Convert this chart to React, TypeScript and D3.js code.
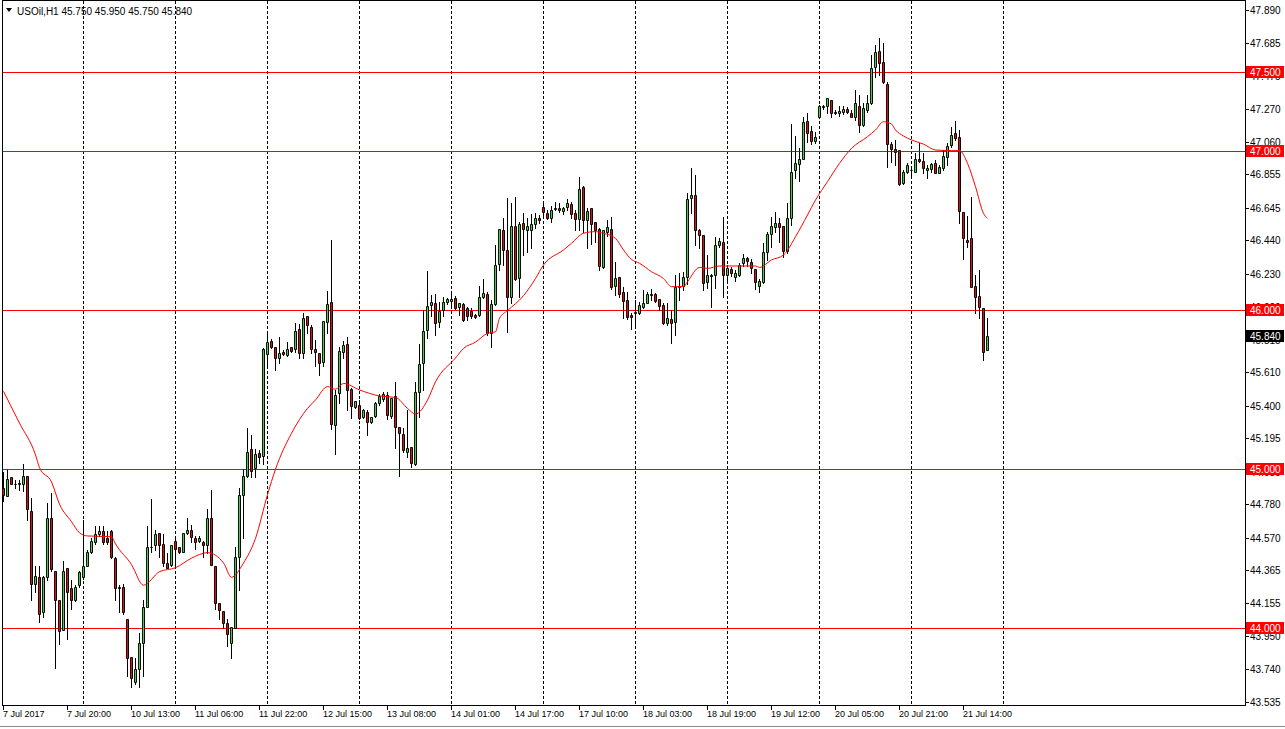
import * as d3 from "d3";

// USOil H1, 7 Jul 2017 - 21 Jul 2017, one entry per hourly bar
const opens = [
  44.88, 44.83, 44.95, 44.91, 44.91, 44.91, 44.96, 44.74, 44.28, 44.32,
  44.1, 44.32, 44.69, 44.36, 44.18, 43.99, 44.38, 44.25, 44.18, 44.27,
  44.32, 44.39, 44.48, 44.54, 44.59, 44.61, 44.57, 44.61, 44.44, 44.25,
  44.26, 44.055, 43.817, 43.66, 43.74, 43.905, 44.13, 44.51, 44.52, 44.6,
  44.53, 44.41, 44.4, 44.55, 44.51, 44.48, 44.6, 44.62, 44.57, 44.55,
  44.54, 44.52, 44.69, 44.39, 44.16, 44.11, 44.03, 43.905, 44.0, 44.45,
  44.84, 44.96, 45.125, 45.006, 45.105, 45.083, 45.725, 45.81, 45.77, 45.7,
  45.74, 45.72, 45.767, 45.755, 45.88, 45.73, 45.965, 45.893, 45.757, 45.73,
  45.677, 45.925, 46.05, 45.28, 45.478, 45.74, 45.785, 45.502, 45.394, 45.405,
  45.327, 45.36, 45.3, 45.337, 45.415, 45.44, 45.467, 45.335, 45.463, 45.268,
  45.22, 45.11, 45.138, 45.033, 45.486, 45.666, 45.876, 46.033, 46.044, 45.928,
  46.002, 46.054, 46.058, 46.079, 46.018, 46.04, 46.012, 45.998, 45.972, 45.97,
  46.082, 46.1, 45.855, 46.038, 46.291, 46.506, 46.38, 46.082, 46.533, 46.206,
  46.548, 46.506, 46.506, 46.541, 46.583, 46.648, 46.61, 46.583, 46.64, 46.646,
  46.625, 46.648, 46.667, 46.61, 46.575, 46.774, 46.568, 46.642, 46.554, 46.51,
  46.275, 46.495, 46.512, 46.155, 46.21, 46.113, 46.065, 45.97, 45.981, 45.985,
  46.023, 46.048, 46.097, 46.1, 46.069, 46.034, 45.918, 45.943, 45.929, 46.145,
  46.153, 46.208, 46.705, 46.726, 46.505, 46.474, 46.18, 46.222, 46.222, 46.411,
  46.432, 46.222, 46.26, 46.208, 46.222, 46.296, 46.327, 46.306, 46.258, 46.153,
  46.18, 46.369, 46.48, 46.527, 46.547, 46.53, 46.375, 46.579, 46.883, 46.921,
  46.952, 47.191, 47.128, 47.068, 47.214, 47.28, 47.286, 47.324, 47.25, 47.24,
  47.25, 47.265, 47.24, 47.219, 47.286, 47.166, 47.26, 47.307, 47.529, 47.632,
  47.56, 47.424, 47.044, 47.015, 47.009, 46.8, 46.872, 46.883, 46.872, 46.952,
  46.942, 46.883, 46.887, 46.929, 46.866, 46.893, 46.967, 47.04, 47.114, 47.089,
  46.621, 46.442, 46.453, 46.155, 46.09, 46.012, 45.75,
];

const highs = [
  44.98, 45.0, 44.95, 44.93, 44.93, 45.03, 44.96, 44.82, 44.39, 44.39,
  44.33, 44.79, 44.85, 44.36, 44.18, 44.42, 44.38, 44.3, 44.27, 44.36,
  44.68, 44.49, 44.57, 44.64, 44.645, 44.64, 44.61, 44.62, 44.45, 44.27,
  44.28, 44.06, 43.82, 43.81, 43.97, 44.18, 44.64, 44.81, 44.62, 44.6,
  44.59, 44.47, 44.52, 44.57, 44.51, 44.6, 44.69, 44.65, 44.58, 44.58,
  44.55, 44.75, 44.87, 44.39, 44.16, 44.11, 44.06, 44.01, 44.51, 44.88,
  45.0, 45.26, 45.215, 45.13, 45.12, 45.76, 45.86, 45.82, 45.77, 45.83,
  45.75, 45.8, 45.77, 45.92, 45.915, 45.98, 45.965, 45.91, 45.815, 45.73,
  45.93, 46.12, 46.44, 45.5, 45.77, 45.81, 45.835, 45.51, 45.43, 45.435,
  45.377, 45.37, 45.33, 45.42, 45.473, 45.488, 45.484, 45.446, 45.547, 45.268,
  45.257, 45.372, 45.14, 45.55, 45.79, 46.0, 46.25, 46.096, 46.1, 46.054,
  46.082, 46.08, 46.1, 46.09, 46.048, 46.044, 46.02, 46.012, 45.975, 46.15,
  46.2, 46.117, 46.065, 46.411, 46.51, 46.579, 46.705, 46.673, 46.711, 46.558,
  46.615, 46.583, 46.604, 46.61, 46.6, 46.684, 46.631, 46.657, 46.684, 46.673,
  46.652, 46.698, 46.684, 46.631, 46.841, 46.782, 46.646, 46.642, 46.558, 46.516,
  46.506, 46.568, 46.59, 46.306, 46.21, 46.149, 46.117, 45.98, 46.065, 46.055,
  46.128, 46.117, 46.132, 46.11, 46.069, 46.044, 46.044, 46.0, 46.222, 46.232,
  46.243, 46.736, 46.894, 46.852, 46.51, 46.474, 46.348, 46.23, 46.463, 46.453,
  46.589, 46.285, 46.27, 46.254, 46.296, 46.355, 46.338, 46.321, 46.258, 46.2,
  46.421, 46.495, 46.589, 46.621, 46.579, 46.53, 46.674, 47.172, 47.097, 47.019,
  47.214, 47.244, 47.16, 47.124, 47.292, 47.292, 47.338, 47.324, 47.26, 47.286,
  47.286, 47.28, 47.26, 47.386, 47.355, 47.302, 47.355, 47.607, 47.67, 47.712,
  47.68, 47.439, 47.061, 47.072, 47.009, 46.883, 46.929, 46.908, 46.988, 47.05,
  46.988, 46.914, 46.93, 46.946, 46.914, 47.009, 47.051, 47.156, 47.194, 47.135,
  46.621, 46.593, 46.715, 46.222, 46.254, 46.012, 45.95,
];

const lows = [
  44.8, 44.83, 44.91, 44.88, 44.87, 44.86, 44.68, 44.18, 44.23, 44.04,
  44.07, 44.3, 44.36, 43.75, 43.9, 43.99, 43.93, 44.12, 44.17, 44.26,
  44.31, 44.39, 44.47, 44.53, 44.58, 44.53, 44.53, 44.44, 44.18, 44.1,
  44.09, 43.7, 43.63, 43.65, 43.63, 43.7, 44.13, 44.48, 44.49, 44.45,
  44.39, 44.38, 44.39, 44.39, 44.47, 44.48, 44.59, 44.54, 44.5, 44.54,
  44.45, 44.47, 44.4, 44.12, 44.06, 44.0, 43.89, 43.81, 44.0, 44.24,
  44.565, 44.95, 44.95, 44.95, 45.04, 45.03, 45.645, 45.76, 45.625, 45.67,
  45.72, 45.71, 45.74, 45.74, 45.7, 45.7, 45.855, 45.73, 45.65, 45.59,
  45.65, 45.855, 45.25, 45.095, 45.415, 45.7, 45.373, 45.32, 45.385, 45.314,
  45.32, 45.215, 45.29, 45.33, 45.404, 45.43, 45.314, 45.32, 45.131, 44.957,
  45.11, 45.08, 45.015, 45.027, 45.33, 45.5, 45.823, 45.964, 45.844, 45.897,
  45.964, 46.037, 46.027, 46.006, 45.97, 45.935, 45.94, 45.953, 45.95, 45.964,
  46.075, 45.844, 45.77, 46.034, 46.254, 46.285, 45.866, 46.044, 46.19, 46.086,
  46.348, 46.365, 46.39, 46.516, 46.55, 46.6, 46.575, 46.554, 46.63, 46.62,
  46.604, 46.631, 46.579, 46.506, 46.506, 46.495, 46.39, 46.415, 46.432, 46.254,
  46.264, 46.468, 46.134, 46.096, 46.086, 45.95, 45.945, 45.88, 45.908, 45.977,
  46.013, 46.044, 46.065, 46.055, 46.002, 45.912, 45.908, 45.792, 45.845, 46.065,
  46.128, 46.166, 46.61, 46.41, 46.39, 46.128, 46.138, 46.02, 46.138, 46.397,
  46.086, 46.174, 46.216, 46.187, 46.216, 46.279, 46.279, 46.233, 46.132, 46.117,
  46.17, 46.316, 46.4, 46.495, 46.432, 46.338, 46.363, 46.537, 46.83, 46.816,
  46.95, 47.061, 47.046, 47.051, 47.208, 47.27, 47.24, 47.214, 47.235, 47.223,
  47.235, 47.24, 47.214, 47.198, 47.124, 47.16, 47.25, 47.298, 47.47, 47.481,
  47.428, 46.9, 46.935, 46.914, 46.789, 46.795, 46.862, 46.84, 46.872, 46.935,
  46.862, 46.83, 46.872, 46.862, 46.862, 46.883, 46.914, 47.03, 47.072, 46.551,
  46.321, 46.4, 46.149, 45.981, 45.95, 45.687, 45.75,
];

const closes = [
  44.84, 44.94, 44.91, 44.91, 44.915, 44.96, 44.75, 44.28, 44.33, 44.09,
  44.32, 44.69, 44.37, 44.18, 43.98, 44.36, 44.23, 44.18, 44.26, 44.35,
  44.39, 44.48, 44.55, 44.59, 44.61, 44.54, 44.54, 44.45, 44.25, 44.26,
  44.1, 43.81, 43.685, 43.74, 43.905, 44.13, 44.51, 44.51, 44.59, 44.52,
  44.41, 44.38, 44.52, 44.5, 44.48, 44.6, 44.62, 44.575, 44.545, 44.57,
  44.52, 44.695, 44.4, 44.16, 44.115, 44.03, 43.96, 44.005, 44.45, 44.84,
  44.96, 45.11, 44.99, 45.096, 45.08, 45.755, 45.8, 45.77, 45.7, 45.73,
  45.725, 45.757, 45.746, 45.87, 45.73, 45.95, 45.908, 45.755, 45.74, 45.67,
  45.93, 46.04, 45.285, 45.467, 45.744, 45.78, 45.5, 45.398, 45.43, 45.325,
  45.37, 45.3, 45.327, 45.415, 45.46, 45.473, 45.341, 45.446, 45.263, 45.226,
  45.12, 45.131, 45.04, 45.484, 45.662, 45.872, 46.03, 46.05, 45.922, 45.998,
  46.054, 46.071, 46.071, 46.012, 46.044, 45.94, 45.964, 45.964, 45.96, 46.082,
  46.11, 45.859, 46.038, 46.285, 46.509, 46.38, 46.086, 46.53, 46.2, 46.541,
  46.512, 46.533, 46.541, 46.579, 46.568, 46.62, 46.579, 46.631, 46.646, 46.631,
  46.642, 46.673, 46.604, 46.575, 46.762, 46.568, 46.627, 46.541, 46.506, 46.279,
  46.503, 46.527, 46.149, 46.205, 46.1, 46.06, 45.96, 45.96, 45.992, 46.034,
  46.048, 46.1, 46.105, 46.06, 46.029, 45.918, 45.95, 45.922, 46.149, 46.149,
  46.208, 46.698, 46.726, 46.505, 46.474, 46.174, 46.222, 46.216, 46.411, 46.438,
  46.222, 46.264, 46.233, 46.237, 46.285, 46.327, 46.312, 46.264, 46.18, 46.187,
  46.365, 46.48, 46.53, 46.552, 46.526, 46.375, 46.579, 46.872, 46.929, 46.952,
  47.183, 47.114, 47.065, 47.089, 47.286, 47.283, 47.334, 47.24, 47.244, 47.256,
  47.27, 47.25, 47.214, 47.302, 47.166, 47.271, 47.302, 47.523, 47.623, 47.554,
  47.435, 47.044, 47.015, 46.994, 46.795, 46.868, 46.914, 46.884, 46.95, 46.942,
  46.893, 46.897, 46.92, 46.866, 46.904, 46.971, 47.034, 47.103, 47.082, 46.627,
  46.453, 46.432, 46.149, 46.086, 46.019, 45.74, 45.84,
];

// moving average: bar index and value
const maIndex = [
  0, 4, 8, 9, 12, 14, 17, 19, 21, 27, 28, 32, 35, 39, 43, 47, 51, 55, 57, 60,
  63, 66, 68, 72, 76, 78, 81, 83, 85, 89, 94, 98, 101, 103, 106, 108, 113, 115,
  118, 121, 123, 124, 126, 130, 133, 135, 140, 142, 145, 148, 150, 153, 155,
  157, 159, 162, 165, 167, 170, 171, 174, 176, 179, 188, 189, 192, 195, 198,
  201, 203, 206, 209, 212, 216, 218, 220, 222, 223, 225, 227, 230, 233, 237,
  239, 241, 243, 245, 246,
];
const maValue = [
  45.49, 45.29, 45.09, 45.01, 44.92, 44.78, 44.67, 44.6, 44.58, 44.575, 44.53,
  44.4, 44.27, 44.355, 44.38, 44.44, 44.475, 44.41, 44.32, 44.41, 44.565, 44.84,
  45.0, 45.226, 45.383, 45.436, 45.52, 45.503, 45.54, 45.499, 45.461, 45.452,
  45.383, 45.347, 45.435, 45.55, 45.7, 45.76, 45.8, 45.855, 45.865, 45.95,
  45.998, 46.092, 46.2, 46.285, 46.38, 46.422, 46.485, 46.495, 46.485, 46.453,
  46.38, 46.32, 46.296, 46.243, 46.2, 46.149, 46.149, 46.18, 46.27, 46.264,
  46.279, 46.279, 46.27, 46.317, 46.348, 46.463, 46.6, 46.694, 46.81, 46.925,
  47.019, 47.093, 47.135, 47.187, 47.172, 47.135, 47.097, 47.072, 47.046,
  47.009, 47.005, 47.005, 46.925, 46.778, 46.61, 46.579,
];

const levels = [47.5, 47.0, 46.0, 45.0, 44.0];
const lastPrice = 45.84;

const priceTicks = [
  47.89, 47.685, 47.475, 47.27, 47.06, 46.855, 46.645, 46.44, 46.23, 46.02,
  45.815, 45.61, 45.4, 45.195, 44.985, 44.78, 44.57, 44.365, 44.155, 43.95,
  43.74, 43.535,
];

const timeLabels = [
  "7 Jul 2017", "7 Jul 20:00", "10 Jul 13:00", "11 Jul 06:00", "11 Jul 22:00",
  "12 Jul 15:00", "13 Jul 08:00", "14 Jul 01:00", "14 Jul 17:00", "17 Jul 10:00",
  "18 Jul 03:00", "18 Jul 19:00", "19 Jul 12:00", "20 Jul 05:00", "20 Jul 21:00",
  "21 Jul 14:00",
];
const barsPerLabel = 16;
const gridBars = [20, 43, 66, 89, 112, 135, 158, 181, 204, 227, 250];

const header = "USOil,H1  45.750 45.950 45.750 45.840";

const W = 1285;
const H = 729;
const plotRight = 1245;
const plotBottom = 705;
const font = "'Liberation Sans', Arial, sans-serif";

export default function App() {
  const x = d3.scaleLinear().domain([0, 246]).range([3, 987]);
  const y = d3.scaleLinear().domain([43.535, 47.89]).range([702, 10]);
  const py = (v: number) => Math.round(y(v)) + 0.5;

  const ma = d3
    .line<number>()
    .x((i) => x(maIndex[i]) + 0.5)
    .y((i) => y(maValue[i]))
    .curve(d3.curveMonotoneX);

  return (
    <svg
      width={W}
      height={H}
      style={{ position: "absolute", left: 0, top: 0, background: "#fff" }}
      fontFamily={font}
    >
      {/* vertical grid */}
      {gridBars.map((b) => (
        <line
          key={b}
          x1={Math.round(x(b)) + 0.5}
          x2={Math.round(x(b)) + 0.5}
          y1={1}
          y2={plotBottom}
          stroke="#000"
          strokeDasharray="3,2"
        />
      ))}

      {/* price levels */}
      {levels.map((l) => (
        <line key={l} x1={2} x2={plotRight} y1={py(l)} y2={py(l)} stroke="#ff0000" />
      ))}

      {/* candles */}
      {opens.map((o, i) => {
        const c = closes[i];
        const cx = Math.round(x(i));
        const top = Math.round(y(Math.max(o, c)));
        const bot = Math.round(y(Math.min(o, c)));
        const h = Math.max(bot - top, 0);
        return (
          <g key={i}>
            <line
              x1={cx + 0.5}
              x2={cx + 0.5}
              y1={Math.round(y(highs[i]))}
              y2={Math.round(y(lows[i])) + 1}
              stroke="#000"
            />
            <path
              d={`M${cx - 0.5},${top + 0.5}h2v${h}h-2z`}
              fill={c >= o ? "#00ff00" : "#ff0000"}
              stroke="#000"
            />
          </g>
        );
      })}

      {/* moving average */}
      <path d={ma(d3.range(maIndex.length)) || ""} fill="none" stroke="#ff0000" />

      {/* frame */}
      <line x1={2.5} x2={2.5} y1={0} y2={plotBottom + 1} stroke="#000" />
      <line x1={2} x2={plotRight + 1} y1={0.5} y2={0.5} stroke="#000" />
      <line x1={plotRight + 0.5} x2={plotRight + 0.5} y1={0} y2={plotBottom + 1} stroke="#000" />
      <line x1={2} x2={plotRight + 1} y1={plotBottom + 0.5} y2={plotBottom + 0.5} stroke="#000" />

      {/* price axis */}
      {priceTicks.map((t) => (
        <g key={t}>
          <line x1={plotRight} x2={plotRight + 4} y1={py(t)} y2={py(t)} stroke="#000" />
          <text x={1250} y={py(t)} dy="0.35em" fontSize={10} fill="#000">
            {t.toFixed(3)}
          </text>
        </g>
      ))}
      {levels.map((l) => (
        <g key={"lb" + l}>
          <rect x={1246} y={py(l) - 6.5} width={38} height={12} fill="#ff0000" />
          <text x={1250} y={py(l)} dy="0.35em" fontSize={10} fill="#fff">
            {l.toFixed(3)}
          </text>
        </g>
      ))}
      <rect x={1246} y={py(lastPrice) - 6.5} width={38} height={12} fill="#000" />
      <text x={1250} y={py(lastPrice)} dy="0.35em" fontSize={10} fill="#fff">
        {lastPrice.toFixed(3)}
      </text>

      {/* time axis */}
      {timeLabels.map((t, k) => {
        const tx = Math.round(x(k * barsPerLabel)) + 0.5;
        return (
          <g key={t}>
            <line x1={tx} x2={tx} y1={plotBottom} y2={plotBottom + 5} stroke="#000" />
            <text x={tx - 0.5} y={717} fontSize={9} fill="#000">
              {t}
            </text>
          </g>
        );
      })}

      {/* header */}
      <path d="M6,8h6l-3,4z" fill="#000" />
      <text x={17} y={15} fontSize={10} fill="#000">
        {header}
      </text>

      <line x1={0} x2={W} y1={726.5} y2={726.5} stroke="#8a8a8a" />
    </svg>
  );
}
